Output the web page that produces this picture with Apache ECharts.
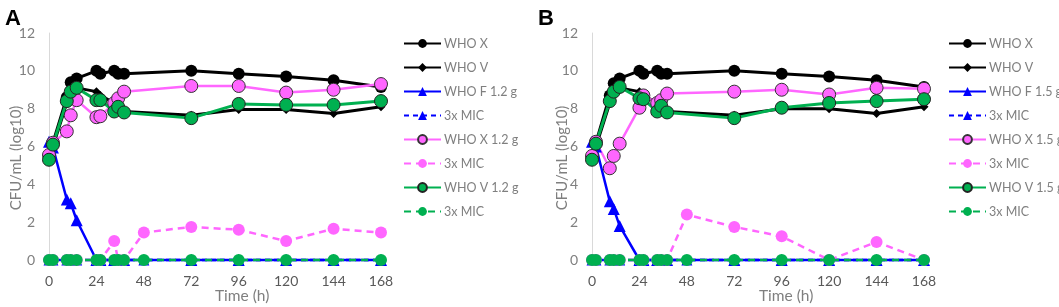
<!DOCTYPE html>
<html>
<head>
<meta charset="utf-8">
<script src="https://cdn.jsdelivr.net/npm/echarts@6/dist/echarts.min.js"></script>
<style>
  html, body { margin: 0; padding: 0; background: #fff; }
  #chart { width: 1059px; height: 307px; }
</style>
</head>
<body>
<div id="chart"></div>
<script>
// time points (h)
const hoursMain = [0, 2, 9, 11, 14, 24, 26, 33, 35, 38, 72, 96, 120, 144, 168];
const hoursMic = [0, 2, 9, 11, 14, 24, 26, 33, 35, 38, 48, 72, 96, 120, 144, 168];
const xTicks = [0, 24, 48, 72, 96, 120, 144, 168];

// panel A
const whoX_A = [5.5, 6.2, 8.6, 9.4, 9.6, 10.0, 9.85, 10.0, 9.85, 9.85, 10.0, 9.85, 9.7, 9.5, 9.15];
const whoV_A = [5.4, 6.0, 8.3, 8.9, 9.1, 8.9, 8.7, 8.3, 7.95, 7.85, 7.65, 7.95, 7.95, 7.75, 8.1];
const whoF12 = [6.25, 5.95, 3.2, 3.0, 2.1, 0, 0, 0, 0, 0, 0, 0, 0, 0, 0];
const micF12 = [0, 0, 0, 0, 0, 0, 0, 0, 0, 0, 0, 0, 0, 0, 0, 0];
const whoX12 = [5.55, 6.2, 6.8, 7.65, 8.45, 7.55, 7.6, 8.3, 8.55, 8.9, 9.2, 9.2, 8.85, 9.0, 9.3];
const micX12 = [0, 0, 0, 0, 0, 0, 0, 1.0, 0, 0, 1.45, 1.75, 1.6, 1.0, 1.65, 1.45];
const whoV12 = [5.3, 6.1, 8.4, 8.9, 9.1, 8.45, 8.45, 7.85, 8.1, 7.8, 7.5, 8.25, 8.2, 8.2, 8.4];
const micV12 = [0, 0, 0, 0, 0, 0, 0, 0, 0, 0, 0, 0, 0, 0, 0, 0];

// panel B
const whoX_B = [5.5, 6.2, 8.7, 9.35, 9.6, 10.0, 9.85, 10.0, 9.85, 9.85, 10.0, 9.85, 9.7, 9.5, 9.15];
const whoV_B = [5.4, 6.0, 8.3, 8.9, 9.1, 8.9, 8.7, 8.3, 7.95, 7.85, 7.65, 8.0, 8.0, 7.75, 8.1];
const whoF15 = [6.25, 6.0, 3.1, 2.7, 1.8, 0, 0, 0, 0, 0, 0, 0, 0, 0, 0];
const micF15 = [0, 0, 0, 0, 0, 0, 0, 0, 0, 0, 0, 0, 0, 0, 0, 0];
const whoX15 = [5.5, 6.25, 4.85, 5.5, 6.15, 8.05, 8.7, 8.3, 8.45, 8.8, 8.9, 9.0, 8.75, 9.1, 9.05];
const micX15 = [0, 0, 0, 0, 0, 0, 0, 0, 0, 0, 2.4, 1.75, 1.25, 0, 0.95, 0];
const whoV15 = [5.3, 6.15, 8.4, 8.9, 9.15, 8.55, 8.5, 7.85, 8.15, 7.8, 7.5, 8.05, 8.3, 8.4, 8.5];
const micV15 = [0, 0, 0, 0, 0, 0, 0, 0, 0, 0, 0, 0, 0, 0, 0, 0];

const FONT = 'Lato, "Open Sans", sans-serif';
const GRAY = '#7f7f7f';
const PINK = '#ff66ff';
const GREEN = '#00b050';
const BLUE = '#0000ff';

const zip = (xs, ys) => xs.map((x, i) => [x, ys[i]]);

// 一个面板的 8 条线
function panelSeries(p, idx, dose, d) {
    const base = { type: 'line', xAxisIndex: idx, yAxisIndex: idx, clip: false, z: 2 };
    return [
        { ...base, name: p + '|WHO X', data: zip(hoursMain, d[0]), symbol: 'circle', symbolSize: 12,
          itemStyle: { color: '#000' }, lineStyle: { color: '#000', width: 3 } },
        { ...base, name: p + '|WHO V', data: zip(hoursMain, d[1]), symbol: 'diamond', symbolSize: 9,
          itemStyle: { color: '#000' }, lineStyle: { color: '#000', width: 3 } },
        { ...base, name: p + '|WHO F ' + dose, data: zip(hoursMain, d[2]), symbol: 'triangle', symbolSize: 12,
          itemStyle: { color: BLUE }, lineStyle: { color: BLUE, width: 2.5 } },
        { ...base, name: p + '|3x MIC|F', data: zip(hoursMic, d[3]), symbol: 'triangle', symbolSize: 11,
          itemStyle: { color: BLUE }, lineStyle: { color: BLUE, width: 2.5, type: [5, 4] } },
        { ...base, name: p + '|WHO X ' + dose, data: zip(hoursMain, d[4]), symbol: 'circle', symbolSize: 13,
          itemStyle: { color: PINK, borderColor: '#333', borderWidth: 1 }, lineStyle: { color: PINK, width: 2.5 } },
        { ...base, name: p + '|3x MIC|X', data: zip(hoursMic, d[5]), symbol: 'circle', symbolSize: 12,
          itemStyle: { color: PINK }, lineStyle: { color: PINK, width: 2.5, type: [7, 5] } },
        { ...base, name: p + '|WHO V ' + dose, data: zip(hoursMain, d[6]), symbol: 'circle', symbolSize: 13,
          itemStyle: { color: GREEN, borderColor: '#222', borderWidth: 1 }, lineStyle: { color: GREEN, width: 3 } },
        { ...base, name: p + '|3x MIC|V', data: zip(hoursMic, d[7]), symbol: 'circle', symbolSize: 12, z: 3,
          itemStyle: { color: GREEN }, lineStyle: { color: GREEN, width: 2.5, type: [7, 5] } }
    ];
}

const seriesA = panelSeries('A', 0, '1.2 g', [whoX_A, whoV_A, whoF12, micF12, whoX12, micX12, whoV12, micV12]);
const seriesB = panelSeries('B', 1, '1.5 g', [whoX_B, whoV_B, whoF15, micF15, whoX15, micX15, whoV15, micV15]);

function xAxis(idx) {
    return {
        type: 'value', gridIndex: idx, min: 0, max: 168, interval: 24,
        axisLine: { show: false }, axisTick: { show: false }, splitLine: { show: false },
        axisLabel: { color: '#595959', fontSize: 14, fontFamily: FONT, margin: 14,
            formatter: v => xTicks.includes(v) ? String(v) : '' }
    };
}
function yAxis(idx) {
    return {
        type: 'value', gridIndex: idx, min: 0, max: 12, interval: 2,
        axisLine: { show: true, lineStyle: { color: '#d9d9d9', width: 1 } },
        axisTick: { show: false }, splitLine: { show: false },
        axisLabel: { color: GRAY, fontSize: 14, fontFamily: FONT, margin: 14 }
    };
}
function legend(left, names) {
    return {
        orient: 'vertical', left: left, top: 37, padding: 0,
        itemWidth: 37, itemHeight: 11, itemGap: 11,
        data: names,
        textStyle: { color: GRAY, fontSize: 12.5, fontFamily: FONT, padding: [0, 0, 0, -2] },
        formatter: n => n.split('|')[1],
        selectedMode: false
    };
}
function txt(x, y, s, extra) {
    return { type: 'text', left: x, top: y, style: { text: s, fontFamily: FONT, ...extra } };
}

const chart = echarts.init(document.getElementById('chart'), null, { renderer: 'canvas' });
chart.setOption({
    animation: false,
    backgroundColor: '#fff',
    grid: [
        { left: 49, top: 33, width: 332, height: 227 },
        { left: 592, top: 33, width: 332, height: 227 }
    ],
    xAxis: [xAxis(0), xAxis(1)],
    yAxis: [yAxis(0), yAxis(1)],
    legend: [
        legend(403, seriesA.map(s => s.name)),
        legend(948, seriesB.map(s => s.name))
    ],
    graphic: [
        txt(5, 8, 'A', { fontSize: 22, fontWeight: 'bold', fill: '#000', fontFamily: 'Liberation Sans, Arial, sans-serif' }),
        txt(538, 8, 'B', { fontSize: 22, fontWeight: 'bold', fill: '#000', fontFamily: 'Liberation Sans, Arial, sans-serif' }),
        txt(215, 288, 'Time (h)', { fontSize: 15.5, fill: GRAY }),
        txt(759, 288, 'Time (h)', { fontSize: 15.5, fill: GRAY }),
        { type: 'text', x: 16, y: 158, rotation: Math.PI / 2,
          style: { text: 'CFU/mL (log10)', fontSize: 15, fill: GRAY, fontFamily: FONT, align: 'center', verticalAlign: 'middle' } },
        { type: 'text', x: 562, y: 158, rotation: Math.PI / 2,
          style: { text: 'CFU/mL (log10)', fontSize: 15, fill: GRAY, fontFamily: FONT, align: 'center', verticalAlign: 'middle' } }
    ],
    series: [...seriesA, ...seriesB]
});
</script>
</body>
</html>
